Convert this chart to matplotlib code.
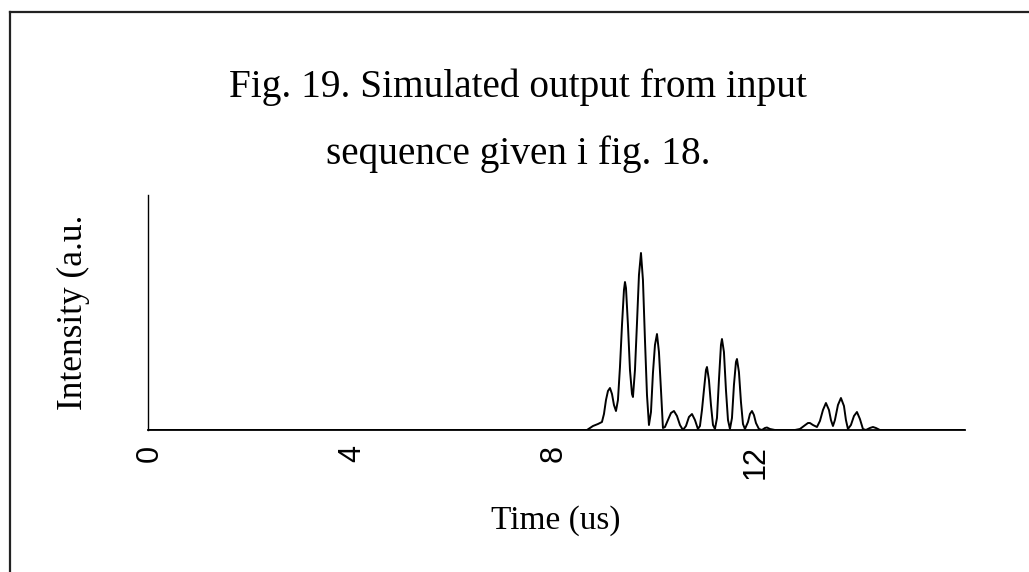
import matplotlib
matplotlib.use("Agg")
import matplotlib.pyplot as plt
from matplotlib.lines import Line2D
from matplotlib.transforms import Bbox

# ---- data ----
time_us = [0.000, 8.614, 8.653, 8.713, 8.772, 8.871, 8.950, 8.990, 9.030, 9.069,
           9.109, 9.149, 9.188, 9.228, 9.267, 9.307, 9.347, 9.386, 9.406, 9.426,
           9.465, 9.505, 9.545, 9.564, 9.604, 9.644, 9.683, 9.723, 9.762, 9.802,
           9.842, 9.881, 9.921, 9.960, 10.000, 10.040, 10.079, 10.119, 10.158, 10.198,
           10.257, 10.317, 10.376, 10.436, 10.495, 10.554, 10.614, 10.673, 10.733, 10.792,
           10.851, 10.891, 10.931, 10.970, 11.010, 11.030, 11.069, 11.109, 11.149, 11.188,
           11.228, 11.267, 11.307, 11.327, 11.366, 11.406, 11.446, 11.485, 11.525, 11.564,
           11.604, 11.624, 11.663, 11.703, 11.743, 11.782, 11.842, 11.881, 11.921, 11.960,
           12.000, 12.059, 12.119, 12.178, 12.218, 12.277, 12.376, 12.772, 12.871, 12.950,
           13.030, 13.069, 13.129, 13.208, 13.267, 13.327, 13.386, 13.446, 13.485, 13.525,
           13.564, 13.624, 13.683, 13.743, 13.782, 13.822, 13.881, 13.941, 14.000, 14.059,
           14.119, 14.178, 14.257, 14.317, 14.376, 14.455, 16.119]
intensity = [0, 0, 0, 2, 4, 6, 8, 16, 30, 39,
             42, 36, 25, 19, 30, 63, 105, 140, 148, 142,
             105, 60, 36, 33, 60, 107, 155, 177, 150, 90,
             35, 5, 18, 57, 85, 96, 78, 40, 2, 3,
             10, 17, 19, 14, 5, 0, 4, 13, 16, 10,
             1, 4, 20, 40, 60, 63, 50, 25, 5, 1,
             12, 50, 85, 91, 78, 40, 10, 1, 12, 45,
             68, 71, 58, 28, 6, 1, 8, 16, 19, 15,
             7, 1, 0, 2, 2.5, 1, 0, 0, 1, 4,
             7, 7, 5, 3, 9, 20, 27, 20, 10, 4,
             10, 25, 32, 24, 10, 1, 5, 14, 18, 11,
             1, 0, 2, 3, 2, 0, 0]
x_ticks = [0, 4, 8, 12]
x_tick_labels = ["0", "4", "8", "12"]
title_lines = ["Fig. 19. Simulated output from input", "sequence given i fig. 18."]
x_label = "Time (us)"
y_label = "Intensity (a.u.)"

W, H = 1029, 572
fig = plt.figure(figsize=(W / 100, H / 100), dpi=100)
fig.patch.set_facecolor("white")

ax = fig.add_axes([148 / W, 1 - 430 / H, (965 - 148) / W, (430 - 195) / H])
ax.plot(time_us, intensity, color="black", lw=1.4, solid_joinstyle="round")
ax.set_xlim(-0.04, 16.14)
ax.set_ylim(0, 235)
ax.spines["top"].set_visible(False)
ax.spines["right"].set_visible(False)
ax.spines["left"].set_linewidth(1.0)
ax.spines["bottom"].set_linewidth(1.3)
for s in ("left", "bottom"):
    ax.spines[s].set_color("black")
ax.set_yticks([])
ax.set_xticks(x_ticks)
ax.set_xticklabels(x_tick_labels, rotation=90, va="top", ha="center",
                   fontfamily="Liberation Sans", fontsize=22)
ax.tick_params(axis="x", length=0, pad=11)

serif = "Liberation Serif"
fig.text(518 / W, 1 - 97 / H, title_lines[0], ha="center", va="baseline",
         fontfamily=serif, fontsize=28.3)
fig.text(518 / W, 1 - 164 / H, title_lines[1], ha="center", va="baseline",
         fontfamily=serif, fontsize=28.3)
fig.text(556 / W, 1 - 521 / H, x_label, ha="center", va="center",
         fontfamily=serif, fontsize=24)
yl = fig.text(73 / W, 1 - 306 / H, y_label, ha="center", va="center",
              rotation=90, fontfamily=serif, fontsize=25.5)
yl.set_clip_box(Bbox.from_extents(0, 0, W, H - 217))
yl.set_clip_on(True)

# figure border (left and top edges)
bx = 9.5 / W
by = 1 - 12 / H
fig.add_artist(Line2D([bx, bx], [0, by], transform=fig.transFigure,
                      color="#222222", lw=1.6))
fig.add_artist(Line2D([bx, 1], [by, by], transform=fig.transFigure,
                      color="#222222", lw=1.6))

fig.savefig("out.png", dpi=100)
